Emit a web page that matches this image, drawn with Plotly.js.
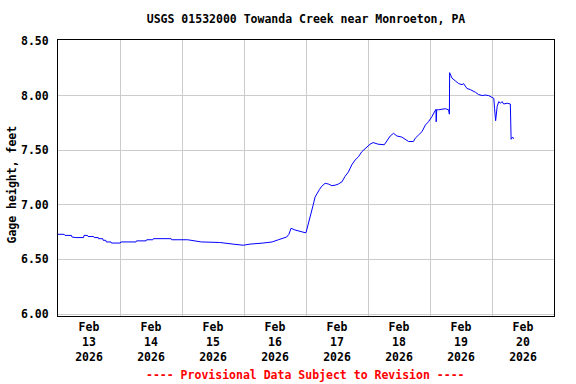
<!DOCTYPE html>
<html>
<head>
<meta charset="utf-8">
<script src="https://cdn.plot.ly/plotly-3.0.1.min.js"></script>
<style>html,body{margin:0;padding:0;background:#fff;}#chart{width:576px;height:384px;}</style>
</head>
<body>
<div id="chart"></div>
<script>
const chartTitle = "USGS 01532000 Towanda Creek near Monroeton, PA";
const yTitle = "Gage height, feet";
const footer = "---- Provisional Data Subject to Revision ----";

const times = [
"2026-02-13 00:00","2026-02-13 02:24","2026-02-13 02:42","2026-02-13 05:12","2026-02-13 05:24","2026-02-13 06:54",
"2026-02-13 09:54","2026-02-13 10:06","2026-02-13 11:24","2026-02-13 11:36","2026-02-13 13:48","2026-02-13 14:00",
"2026-02-13 15:36","2026-02-13 15:42","2026-02-13 17:18","2026-02-13 17:30","2026-02-13 18:30","2026-02-13 18:42",
"2026-02-13 20:30","2026-02-13 20:42","2026-02-14 00:06","2026-02-14 00:18","2026-02-14 06:12","2026-02-14 06:24",
"2026-02-14 10:06","2026-02-14 10:18","2026-02-14 12:42","2026-02-14 12:54","2026-02-14 19:48","2026-02-14 20:00",
"2026-02-15 02:12","2026-02-15 04:54","2026-02-15 07:30","2026-02-15 14:36","2026-02-15 17:12","2026-02-15 19:48",
"2026-02-15 23:42","2026-02-16 02:18","2026-02-16 07:24","2026-02-16 10:54","2026-02-16 13:18","2026-02-16 16:30",
"2026-02-16 17:24","2026-02-16 18:12","2026-02-16 19:42","2026-02-16 22:18","2026-02-16 23:36","2026-02-17 00:00",
"2026-02-17 00:54","2026-02-17 01:36","2026-02-17 02:12","2026-02-17 02:48","2026-02-17 03:30","2026-02-17 04:12",
"2026-02-17 05:12","2026-02-17 06:06","2026-02-17 07:24","2026-02-17 08:42","2026-02-17 10:00","2026-02-17 11:18",
"2026-02-17 12:30","2026-02-17 13:54","2026-02-17 15:06","2026-02-17 16:24","2026-02-17 17:42","2026-02-17 19:00",
"2026-02-17 20:18","2026-02-17 21:36","2026-02-17 22:12","2026-02-17 23:18","2026-02-18 00:48","2026-02-18 02:00",
"2026-02-18 03:54","2026-02-18 06:18","2026-02-18 07:48","2026-02-18 08:36","2026-02-18 09:54","2026-02-18 11:12",
"2026-02-18 13:06","2026-02-18 14:24","2026-02-18 15:42","2026-02-18 17:36","2026-02-18 18:18","2026-02-18 19:36",
"2026-02-18 20:54","2026-02-18 22:12","2026-02-18 23:24","2026-02-19 00:48","2026-02-19 01:42","2026-02-19 02:18",
"2026-02-19 02:24","2026-02-19 02:36","2026-02-19 03:18","2026-02-19 04:36","2026-02-19 05:54","2026-02-19 07:12",
"2026-02-19 07:30","2026-02-19 07:36","2026-02-19 08:30","2026-02-19 09:48","2026-02-19 11:06","2026-02-19 12:24",
"2026-02-19 13:00","2026-02-19 14:18","2026-02-19 15:36","2026-02-19 17:36","2026-02-19 18:48","2026-02-19 20:12",
"2026-02-19 21:24","2026-02-19 22:42","2026-02-20 00:00","2026-02-20 00:42","2026-02-20 01:00","2026-02-20 01:24",
"2026-02-20 02:00","2026-02-20 02:36","2026-02-20 03:18","2026-02-20 03:54","2026-02-20 04:30","2026-02-20 05:54",
"2026-02-20 07:06","2026-02-20 07:12","2026-02-20 07:24","2026-02-20 08:00","2026-02-20 08:24"
];

const gageHeight = [
6.73,6.73,6.72,6.72,6.705,6.70,
6.70,6.72,6.72,6.71,6.71,6.70,
6.70,6.69,6.69,6.675,6.675,6.66,
6.66,6.65,6.65,6.66,6.66,6.67,
6.67,6.68,6.68,6.69,6.69,6.68,
6.68,6.67,6.66,6.655,6.65,6.64,
6.63,6.64,6.65,6.66,6.68,6.705,
6.73,6.785,6.77,6.75,6.745,6.745,
6.82,6.876,6.94,7.00,7.07,7.105,
7.14,7.17,7.197,7.19,7.175,7.18,
7.19,7.21,7.26,7.30,7.365,7.41,
7.44,7.486,7.50,7.52,7.555,7.57,
7.555,7.55,7.60,7.63,7.655,7.63,
7.62,7.60,7.58,7.58,7.61,7.64,
7.67,7.73,7.76,7.81,7.85,7.875,
7.76,7.87,7.87,7.875,7.88,7.87,
7.83,8.21,8.16,8.135,8.11,8.10,
8.11,8.065,8.055,8.03,8.01,8.00,
8.005,8.00,7.985,7.975,7.88,7.77,
7.90,7.945,7.93,7.945,7.923,7.93,
7.923,7.68,7.60,7.62,7.605
];

const xRange = ["2026-02-13 00:00", "2026-02-21 00:00"];
const yTickVals = [6.0, 6.5, 7.0, 7.5, 8.0, 8.5];

const monoFont = {family: "DejaVu Sans Mono, monospace", size: 11.5, color: "#000", weight: "bold"};

const trace = {
  x: times, y: gageHeight, type: "scatter", mode: "lines",
  line: {color: "#0000ff", width: 1}, hoverinfo: "skip"
};

const layout = {
  width: 576, height: 384,
  margin: {l: 58, r: 22, t: 40, b: 68},
  paper_bgcolor: "#fff", plot_bgcolor: "#fff",
  showlegend: false,
  title: {text: chartTitle, font: monoFont, x: 0.5, xref: "paper", y: 1 - 19/384, yref: "container", yanchor: "middle"},
  xaxis: {
    type: "date", range: xRange, dtick: 86400000, tick0: "2026-02-13",
    ticklabelmode: "period", tickformat: "%b<br>%d<br>%Y",
    showgrid: true, gridcolor: "#cccccc", gridwidth: 1,
    showline: true, linecolor: "#000", linewidth: 1, mirror: true,
    ticks: "", tickfont: monoFont, zeroline: false
  },
  yaxis: {
    range: [5.982, 8.509], tickvals: yTickVals, tickformat: ".2f",
    showgrid: true, gridcolor: "#cccccc", gridwidth: 1,
    showline: true, linecolor: "#000", linewidth: 1, mirror: true,
    ticks: "", tickfont: monoFont, zeroline: false, ticklabelstandoff: 6
  },
  annotations: [
    {text: yTitle, textangle: -90, xref: "paper", yref: "paper", x: (11.5-58)/496, y: (316-185)/276,
     xanchor: "center", yanchor: "middle", showarrow: false, font: monoFont},
    {text: footer, xref: "paper", yref: "paper", x: (305-58)/496, y: (316-375)/276,
     xanchor: "center", yanchor: "middle", showarrow: false,
     font: {family: "DejaVu Sans Mono, monospace", size: 11.5, color: "#ff0000", weight: "bold"}}
  ]
};

Plotly.newPlot("chart", [trace], layout, {staticPlot: true, displayModeBar: false});
</script>
</body>
</html>
